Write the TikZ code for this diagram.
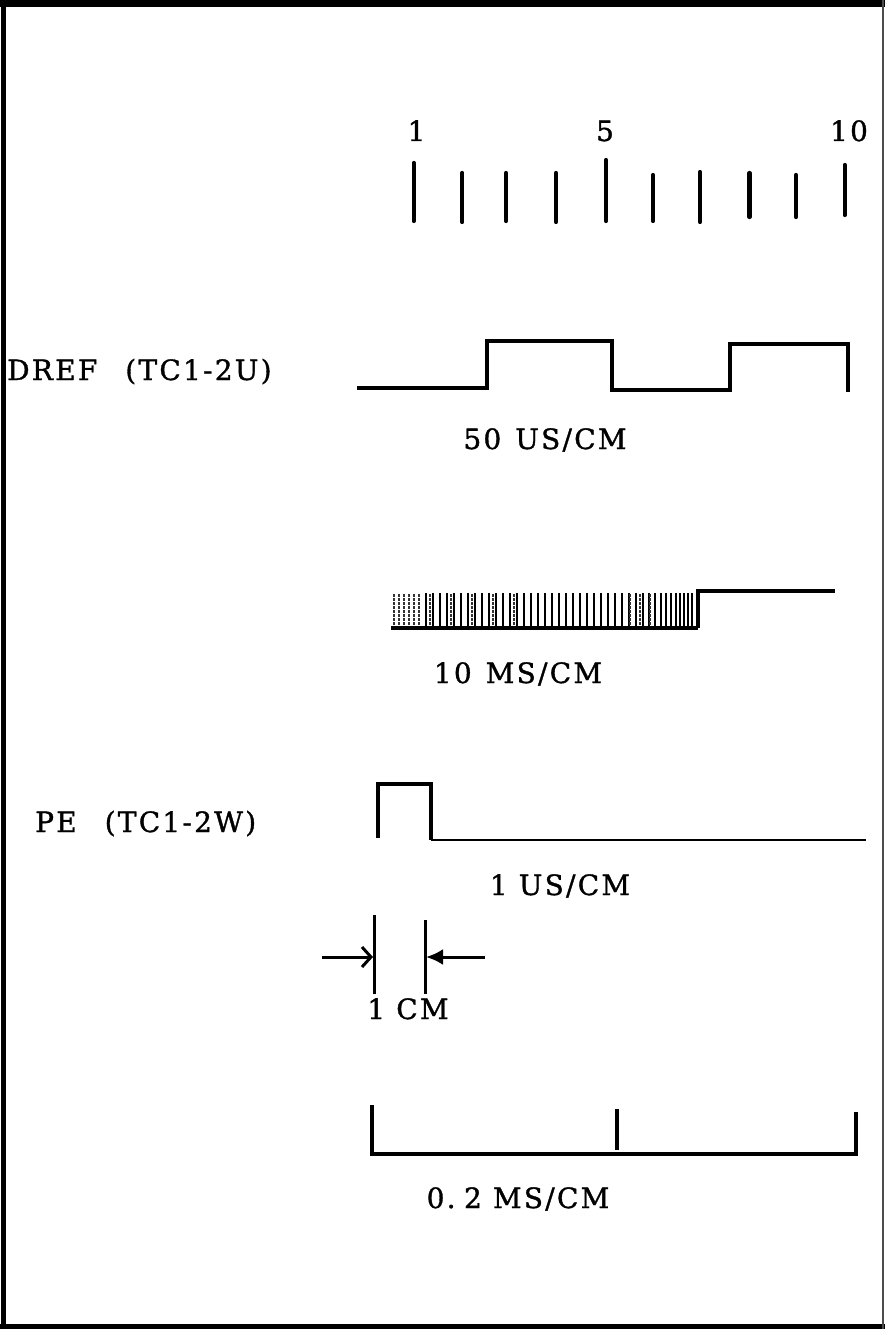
\documentclass[tikz,border=0pt]{standalone}
\usepackage{fontspec}
\setmainfont{DejaVu Serif}
\newfontfamily\labfont[LetterSpace=8,FakeBold=1.2]{DejaVu Serif}
\usetikzlibrary{arrows.meta}
\begin{document}
\begin{tikzpicture}[x=1pt,y=-1pt,
  lab/.style={font=\labfont\fontsize{28}{30}\selectfont, inner sep=0pt},
  wave/.style={line width=3.4pt, line join=miter},
  tickmark/.style={line width=4.2pt, line cap=round},
  dimline/.style={line width=3pt},
  hatch/.style={line width=2.6pt},
  stip/.style={line width=2.2pt, dash pattern=on 2.5pt off 1.5pt, black!80},
]
\useasboundingbox (0,0) rectangle (885,1329);
% frame
\draw[line width=7pt] (0,4) -- (885,4);
\draw[line width=5pt] (3,0) -- (3,1329);
\draw[line width=5pt] (0,1326) -- (885,1326);
\draw[line width=1.4pt, black!70] (883,0) -- (883,1329);

% scale numbers
\node[lab, anchor=base] (n1) at (416.5,141) {1};
\node[lab, anchor=base] (n5) at (605,141) {5};
\node[lab, anchor=base] (n10) at (849,141) {10};
% ticks
\draw[tickmark] (413.7,163) -- (413.7,221);
\draw[tickmark] (462.3,173) -- (462.3,222);
\draw[tickmark] (506,173) -- (506,221);
\draw[tickmark] (556,173) -- (556,222);
\draw[tickmark] (606,160) -- (606,221);
\draw[tickmark] (653,175) -- (653,221);
\draw[tickmark] (700,172) -- (700,222);
\draw[tickmark] (749.5,173) -- (749.5,217);
\draw[tickmark] (796,175) -- (796,217);
\draw[tickmark] (844.7,165) -- (844.7,215);

% DREF
\node[lab, anchor=base west] (dref) at (7,380) {DREF\hspace{1em}(TC1-2U)};
\draw[wave] (357,388) -- (487,388) -- (487,341) -- (612,341) -- (612,390)
  -- (730,390) -- (730,344) -- (848,344) -- (848,392);
\node[lab, anchor=base] (t50) at (545,449) {50\hspace{0.5em}US/CM};

% 10 MS/CM trace
\foreach \x in {394,399,404,409,414,419} \draw[stip] (\x,594) -- (\x,626);
\foreach \x in {426,433,440,447,454,461,468,475,482,489,496,503,510,517,524,531,538,545,552,559,566,573,580,587,594,601,608,615,622,629,636,643,649,655,661,666,671,676,680,684,688,692}
  \draw[hatch] (\x,593) -- (\x,628);
\foreach \x in {430,451,472,493,514,630,640,650} \draw[stip] (\x,594) -- (\x,626);
\draw[wave, line width=4.5pt] (391,628) -- (698,628);
\draw[wave] (698,628) -- (698,591) -- (835,591);
\node[lab, anchor=base] (t10) at (518,683) {10\hspace{0.5em}MS/CM};

% PE
\node[lab, anchor=base west] (pe) at (35,832) {PE\hspace{1em}(TC1-2W)};
\draw[wave] (378,838) -- (378,784) -- (431,784) -- (431,840);
\draw[wave, line width=2.6pt] (431,840) -- (866,840);
\node[lab, anchor=base] (t1us) at (560,895) {1 US/CM};

% 1 CM dimension
\draw[dimline] (374,915) -- (374,994);
\draw[dimline] (425,920) -- (425,994);
\coordinate (alt) at (322,957);
\coordinate (alh) at (373,957);
\coordinate (art) at (485,957);
\coordinate (arh) at (426,957);
\draw[dimline, -{Straight Barb[length=9pt,width=20pt,line width=3pt]}] (alt) -- (alh);
\draw[dimline, -{Latex[length=17pt,width=16pt]}] (art) -- (arh);
\node[lab, anchor=base] (t1cm) at (408,1019) {1 CM};

% 0.2 MS/CM
\draw[wave] (372,1105) -- (372,1154) -- (856,1154) -- (856,1112);
\draw[wave] (617,1109) -- (617,1150);
\node[lab, anchor=base] (t02) at (518,1208) {0.\hspace{0.3em}2 MS/CM};
\end{tikzpicture}
\end{document}
